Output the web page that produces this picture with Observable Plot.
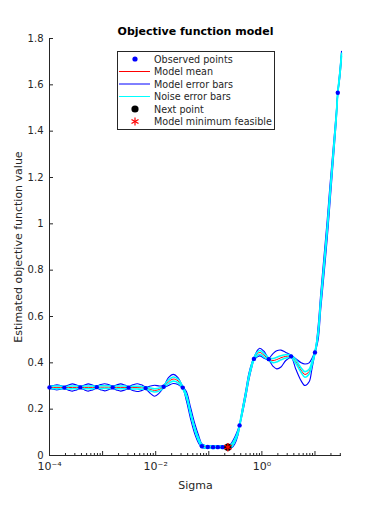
<!DOCTYPE html>
<html>
<head>
<meta charset="utf-8">
<script src="https://cdn.jsdelivr.net/npm/d3@7"></script>
<script src="https://cdn.jsdelivr.net/npm/@observablehq/plot@0.6"></script>
<style>
  html, body { margin: 0; padding: 0; background: #fff; }
  #wrap { position: relative; width: 377px; height: 512px; font-family: "DejaVu Sans", sans-serif; }
</style>
</head>
<body>
<div id="wrap"></div>
<script>
// ---- data (x as log10 of Sigma) ----
const logSigma = [-4.00,-3.93,-3.86,-3.79,-3.72,-3.64,-3.57,-3.49,-3.42,-3.34,-3.27,-3.19,-3.11,-3.04,-2.96,-2.89,-2.81,-2.74,-2.66,-2.58,-2.51,-2.43,-2.35,-2.27,-2.19,-2.10,-2.02,-1.93,-1.85,-1.76,-1.67,-1.58,-1.49,-1.42,-1.34,-1.26,-1.19,-1.13,-1.06,-0.96,-0.87,-0.77,-0.68,-0.62,-0.57,-0.51,-0.45,-0.42,-0.36,-0.30,-0.25,-0.19,-0.15,-0.09,-0.04,0.04,0.13,0.21,0.28,0.36,0.45,0.55,0.64,0.74,0.81,0.89,0.94,1.00,1.06,1.11,1.17,1.23,1.28,1.34,1.40,1.43,1.47,1.50];
const modelMean = [0.294,0.294,0.294,0.294,0.293,0.293,0.294,0.294,0.294,0.294,0.294,0.294,0.295,0.295,0.295,0.295,0.294,0.294,0.294,0.294,0.293,0.293,0.293,0.292,0.291,0.285,0.281,0.285,0.297,0.318,0.330,0.322,0.293,0.255,0.180,0.112,0.068,0.042,0.037,0.036,0.036,0.036,0.035,0.036,0.043,0.065,0.100,0.130,0.200,0.270,0.335,0.390,0.417,0.438,0.445,0.433,0.416,0.410,0.414,0.422,0.428,0.428,0.405,0.368,0.350,0.362,0.395,0.445,0.530,0.670,0.820,0.975,1.120,1.290,1.460,1.566,1.650,1.730];
const modelUpper = [0.299,0.302,0.305,0.302,0.298,0.304,0.309,0.304,0.299,0.304,0.309,0.304,0.300,0.306,0.310,0.306,0.299,0.304,0.309,0.304,0.298,0.305,0.310,0.305,0.296,0.300,0.303,0.300,0.302,0.336,0.350,0.336,0.298,0.275,0.205,0.135,0.085,0.050,0.043,0.042,0.042,0.042,0.040,0.042,0.055,0.080,0.112,0.135,0.212,0.285,0.350,0.400,0.422,0.452,0.463,0.450,0.421,0.440,0.452,0.455,0.445,0.433,0.418,0.400,0.395,0.400,0.418,0.450,0.560,0.705,0.860,1.015,1.160,1.320,1.480,1.572,1.665,1.745];
const modelLower = [0.289,0.286,0.283,0.286,0.288,0.282,0.278,0.283,0.289,0.283,0.278,0.283,0.290,0.284,0.279,0.284,0.289,0.283,0.278,0.283,0.288,0.281,0.276,0.280,0.286,0.268,0.256,0.270,0.292,0.302,0.311,0.306,0.288,0.235,0.155,0.090,0.052,0.034,0.031,0.030,0.030,0.030,0.030,0.030,0.033,0.050,0.088,0.125,0.188,0.255,0.320,0.380,0.412,0.425,0.430,0.420,0.411,0.385,0.374,0.382,0.410,0.423,0.372,0.322,0.302,0.318,0.370,0.440,0.500,0.635,0.780,0.935,1.080,1.260,1.440,1.560,1.635,1.715];
const noiseHalf = [0.004,0.006,0.006,0.006,0.004,0.006,0.006,0.006,0.004,0.006,0.006,0.006,0.004,0.006,0.006,0.006,0.004,0.006,0.006,0.006,0.004,0.006,0.006,0.006,0.004,0.006,0.007,0.006,0.005,0.008,0.009,0.008,0.005,0.006,0.006,0.006,0.006,0.005,0.005,0.005,0.005,0.005,0.005,0.005,0.006,0.006,0.006,0.005,0.006,0.006,0.006,0.006,0.005,0.007,0.008,0.008,0.005,0.009,0.010,0.009,0.007,0.005,0.008,0.010,0.012,0.010,0.008,0.005,0.006,0.006,0.006,0.006,0.006,0.006,0.006,0.005,0.006,0.006];

const obsLogSigma = [-4.00,-3.72,-3.42,-3.11,-2.81,-2.51,-2.19,-1.85,-1.49,-1.13,-1.02,-0.92,-0.83,-0.74,-0.66,-0.42,-0.15,0.13,0.55,1.00,1.43];
const obsValue    = [0.294,0.293,0.294,0.295,0.294,0.293,0.291,0.297,0.293,0.040,0.037,0.036,0.036,0.036,0.035,0.130,0.417,0.416,0.428,0.445,1.566];

const nextLogSigma = [-0.64];
const nextValue = [0.036];
const minLogSigma = [-0.64];
const minValue = [0.036];

const yTicks = [0, 0.2, 0.4, 0.6, 0.8, 1, 1.2, 1.4, 1.6, 1.8];
const yTickLabels = ["0", "0.2", "0.4", "0.6", "0.8", "1", "1.2", "1.4", "1.6", "1.8"];
const xLabelTicks = [1e-4, 1e-2, 1];
const xTickLabels = ["10⁻⁴", "10⁻²", "10⁰"];
const xMajorTicks = [1e-4, 1e-3, 1e-2, 1e-1, 1, 10];
const xMinorTicks = [];
for (const d of xMajorTicks) for (let m = 2; m <= 9; m++) if (m * d <= 31.6) xMinorTicks.push(m * d);

const xDomain = [1e-4, 31.6];
const yDomain = [0, 1.8];

// ---- build tables ----
const curve = logSigma.map((l, i) => ({
  s: Math.pow(10, l),
  mean: modelMean[i],
  up: modelUpper[i],
  lo: modelLower[i],
  nUp: modelMean[i] + noiseHalf[i],
  nLo: modelMean[i] - noiseHalf[i]
}));
const obs = obsLogSigma.map((l, i) => ({s: Math.pow(10, l), v: obsValue[i]}));
const nextPt = nextLogSigma.map((l, i) => ({s: Math.pow(10, l), v: nextValue[i]}));
const minPt = minLogSigma.map((l, i) => ({s: Math.pow(10, l), v: minValue[i]}));

const yLabelMap = new Map(yTicks.map((t, i) => [t, yTickLabels[i]]));
const xLabelMap = new Map(xLabelTicks.map((t, i) => [t, xTickLabels[i]]));

const ink = "#262626";
const curveType = "catmull-rom";

const chart = Plot.plot({
  width: 377,
  height: 512,
  marginLeft: 49,
  marginRight: 36,
  marginTop: 38,
  marginBottom: 57,
  style: {fontFamily: "DejaVu Sans, sans-serif", fontSize: "10px", color: ink, background: "#fff"},
  x: {type: "log", domain: xDomain, axis: null},
  y: {domain: yDomain, axis: null},
  marks: [
    // axis lines
    Plot.ruleX([xDomain[0]], {stroke: ink, strokeWidth: 1}),
    Plot.ruleY([yDomain[0]], {stroke: ink, strokeWidth: 1}),
    // ticks (inward)
    Plot.axisY(yTicks, {anchor: "left", label: null, tickSize: -4, tickFormat: () => "", stroke: ink}),
    Plot.axisY(yTicks, {anchor: "left", label: null, tickSize: 0, tickPadding: 6, tickFormat: d => yLabelMap.get(d), fill: ink, fontSize: 10}),
    Plot.axisX(xMajorTicks, {anchor: "bottom", label: null, tickSize: -4, tickFormat: () => "", stroke: ink}),
    Plot.axisX(xMinorTicks, {anchor: "bottom", label: null, tickSize: -2, tickFormat: () => "", stroke: ink}),
    Plot.axisX(xLabelTicks, {anchor: "bottom", label: null, tickSize: 0, tickPadding: 7, tickFormat: d => xLabelMap.get(d), fill: ink, fontSize: 11}),
    // model mean
    Plot.line(curve, {x: "s", y: "mean", stroke: "#ff0000", strokeWidth: 1, curve: curveType}),
    // model error bars
    Plot.line(curve, {x: "s", y: "up", stroke: "#0000ff", strokeWidth: 1.1, curve: curveType}),
    Plot.line(curve, {x: "s", y: "lo", stroke: "#0000ff", strokeWidth: 1.1, curve: curveType}),
    // noise error bars
    Plot.line(curve, {x: "s", y: "nUp", stroke: "#00ffff", strokeWidth: 1.6, curve: curveType}),
    Plot.line(curve, {x: "s", y: "nLo", stroke: "#00ffff", strokeWidth: 1.6, curve: curveType}),
    // observed points
    Plot.dot(obs, {x: "s", y: "v", r: 2.2, fill: "#0000ff"}),
    // next point
    Plot.dot(nextPt, {x: "s", y: "v", r: 3.6, fill: "#000000"}),
    // model minimum feasible
    Plot.dot(minPt, {x: "s", y: "v", r: 4, symbol: "asterisk", stroke: "#ff0000", strokeWidth: 1.3}),
    // title and axis labels
    Plot.text(["Objective function model"], {frameAnchor: "top", dy: -11, fontWeight: "bold", fontSize: 11, fill: "#000"}),
    Plot.text(["Sigma"], {frameAnchor: "bottom", dy: 33, fontSize: 11, fill: ink}),
    Plot.text(["Estimated objective function value"], {frameAnchor: "left", textAnchor: "middle", dx: -31, rotate: -90, fontSize: 11, fill: ink})
  ]
});

const wrap = document.getElementById("wrap");
wrap.appendChild(chart);

// ---- legend ----
const legendItems = ["Observed points", "Model mean", "Model error bars", "Noise error bars", "Next point", "Model minimum feasible"];
const ns = "http://www.w3.org/2000/svg";
const lg = document.createElementNS(ns, "svg");
lg.setAttribute("width", 158);
lg.setAttribute("height", 79);
lg.setAttribute("style", "position:absolute;left:117px;top:51px;font-family:'DejaVu Sans',sans-serif;");
const el = (tag, attrs, parent = lg) => { const e = document.createElementNS(ns, tag); for (const k in attrs) e.setAttribute(k, attrs[k]); parent.appendChild(e); return e; };
el("rect", {x: 0.5, y: 0.5, width: 157, height: 78, fill: "#fff", stroke: ink, "stroke-width": 1});
const rowY = [8, 20.5, 33, 45.5, 58, 70.5];
legendItems.forEach((t, i) => {
  const y = rowY[i];
  if (i === 0) el("circle", {cx: 18, cy: y, r: 2.6, fill: "#0000ff"});
  if (i === 1) el("line", {x1: 2, x2: 33, y1: y, y2: y, stroke: "#ff0000", "stroke-width": 1});
  if (i === 2) el("line", {x1: 2, x2: 33, y1: y, y2: y, stroke: "#0000ff", "stroke-width": 1});
  if (i === 3) el("line", {x1: 2, x2: 33, y1: y, y2: y, stroke: "#00ffff", "stroke-width": 1});
  if (i === 4) el("circle", {cx: 18, cy: y, r: 3.6, fill: "#000"});
  if (i === 5) {
    const g = el("g", {stroke: "#ff0000", "stroke-width": 1.2});
    [[0, -4, 0, 4], [-3.5, -2, 3.5, 2], [-3.5, 2, 3.5, -2]].forEach(([a, b, c, d]) =>
      el("line", {x1: 18 + a, y1: y + b, x2: 18 + c, y2: y + d}, g));
  }
  const tx = el("text", {x: 37, y: y, "font-size": "9.6px", fill: ink, "dominant-baseline": "central"});
  tx.textContent = t;
});
wrap.appendChild(lg);
</script>
</body>
</html>
